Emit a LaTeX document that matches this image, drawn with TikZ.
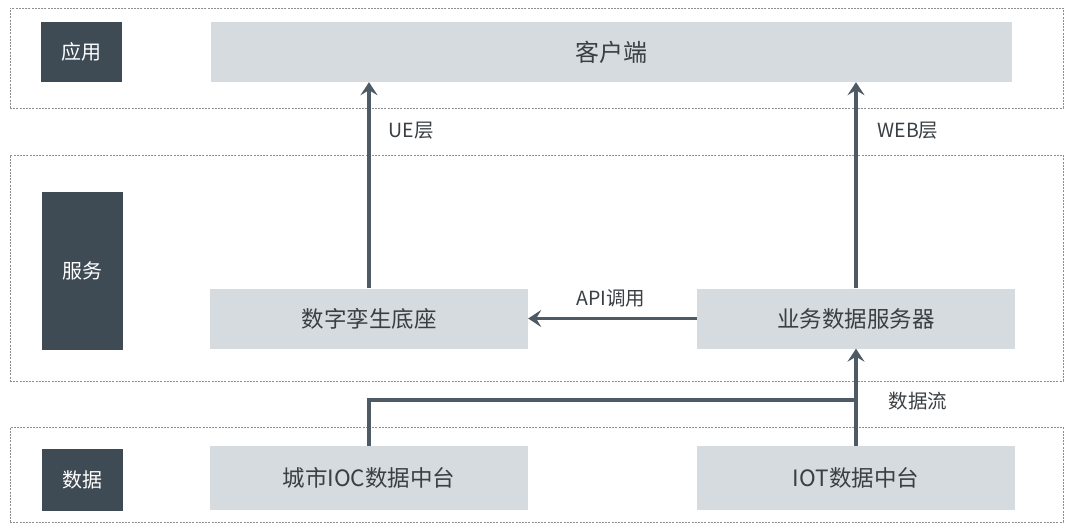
\documentclass[tikz,border=0pt]{standalone}
\usepackage{fontspec}
\setmainfont{Noto Sans CJK SC}
\usetikzlibrary{arrows.meta}
\definecolor{darkbox}{HTML}{3E4A54}
\definecolor{lightbox}{HTML}{D5DBDF}
\definecolor{arrowc}{HTML}{4F5B64}
\definecolor{framec}{HTML}{8A8F94}
\definecolor{txt}{HTML}{3A3F44}
\begin{document}
\begin{tikzpicture}[x=1pt,y=-1pt,
  frame/.style={draw=framec, line width=0.8pt, dash pattern=on 2pt off 1.2pt, minimum width=1053pt, inner sep=0pt},
  darkb/.style={fill=darkbox, text=white, minimum width=81pt, inner sep=0pt, font=\fontsize{20}{24}\selectfont},
  lightb/.style={fill=lightbox, text=txt, minimum height=60pt, inner sep=0pt, font=\fontsize{22.5}{26}\selectfont},
  lbl/.style={text=txt, inner sep=1pt, font=\fontsize{19.5}{23}\selectfont},
  arr/.style={draw=arrowc, line width=3.2pt, -{Stealth[length=13pt,width=17pt,inset=5pt]}},
  ln/.style={draw=arrowc, line width=3.2pt}
]
\useasboundingbox (0,0) rectangle (1080,530);
\fill[white] (0,0) rectangle (1080,530);
% frames
\node[frame, minimum height=100pt] (fapp) at (536.5,58) {};
\node[frame, minimum height=226pt] (fsrv) at (536.5,268) {};
\node[frame, minimum height=95pt] (fdat) at (536.5,474.5) {};
% dark labels
\node[darkb, minimum height=60pt] (lapp) at (81,52) {应用};
\node[darkb, minimum height=158pt] (lsrv) at (82,271) {服务};
\node[darkb, minimum height=62pt] (ldat) at (82,480) {数据};
% light boxes
\node[lightb, minimum width=801pt, font=\fontsize{24}{28}\selectfont] (client) at (611.5,52) {客户端};
\node[lightb, minimum width=318pt] (twin) at (369,318.5) {数字孪生底座};
\node[lightb, minimum width=318pt] (biz) at (856,318.5) {业务数据服务器};
\node[lightb, minimum width=318pt, minimum height=64pt] (city) at (369,478) {城市IOC数据中台};
\node[lightb, minimum width=318pt, minimum height=64pt] (iot) at (856,478) {IOT数据中台};
% arrows
\draw[arr] (twin.north) -- (twin.north |- client.south);
\draw[arr] (biz.north) -- (biz.north |- client.south);
\draw[arr] (biz.west) -- (twin.east);
\coordinate (j) at (iot.north |- 0,400);
\draw[ln] (city.north) |- (j);
\draw[arr] (iot.north) -- (biz.south);
% labels
\node[lbl] (ue) at (411,131) {UE层};
\node[lbl] (web) at (908,131) {WEB层};
\node[lbl] (api) at (611,298) {API调用};
\node[lbl] (flow) at (918,401) {数据流};
\end{tikzpicture}
\end{document}
